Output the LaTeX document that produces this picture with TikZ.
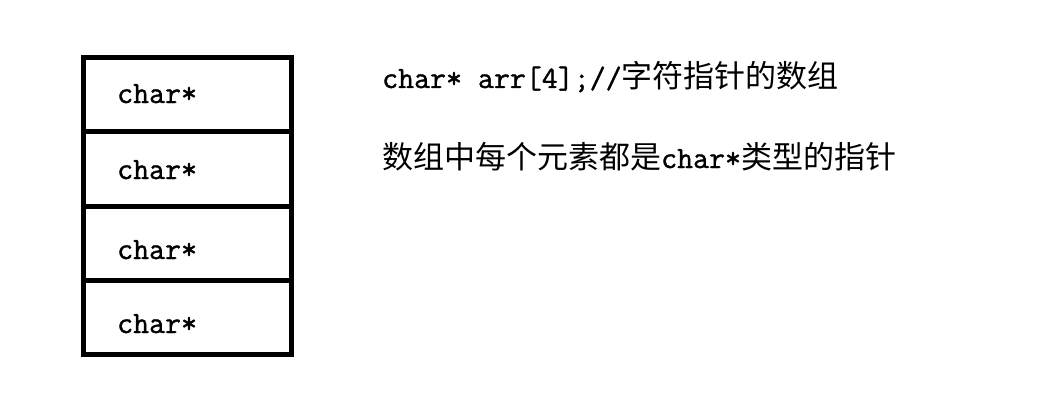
\documentclass[tikz,border=0pt]{standalone}
\usepackage{fontspec}
\newfontfamily\cjk{Noto Sans CJK SC}
\newfontfamily\codefont[FakeBold=1.2]{Latin Modern Mono}

\tikzset{
    cell/.style={draw, line width=5pt, minimum width=207.5pt, minimum height=74.25pt, inner sep=0pt},
    txt/.style={anchor=base west, inner sep=0pt, font=\fontsize{31}{31}\selectfont}
}

\begin{document}
\begin{tikzpicture}[x=1pt,y=-1pt]
    \useasboundingbox (0,0) rectangle (1053,404);

    \node[cell] at (187.25,94.625)  (e1) {};
    \node[cell] at (187.25,168.875) (e2) {};
    \node[cell] at (187.25,243.125) (e3) {};
    \node[cell] at (187.25,317.375) (e4) {};

    \node[txt] at (117,103) (p1) {\codefont char*};
    \node[txt] at (117,179) (p2) {\codefont char*};
    \node[txt] at (117,259) (p3) {\codefont char*};
    \node[txt] at (117,333) (p4) {\codefont char*};

    \node[txt] at (382,88)  (decl) {\codefont char* arr[4];//\cjk 字符指针的数组};
    \node[txt] at (382,168) (note) {\cjk 数组中每个元素都是\codefont char*\cjk 类型的指针};
\end{tikzpicture}
\end{document}
